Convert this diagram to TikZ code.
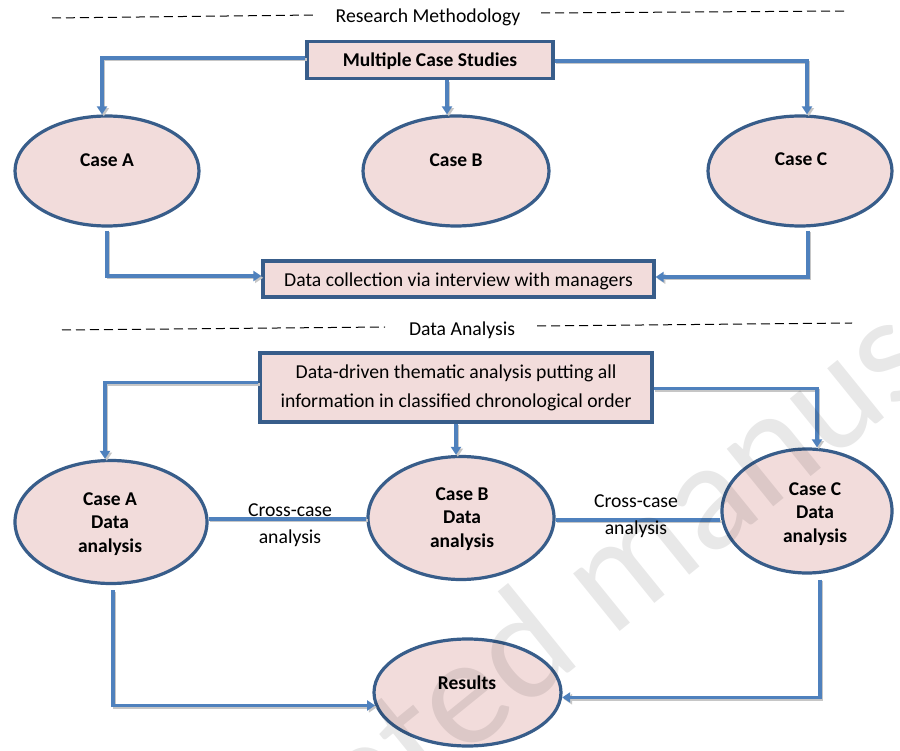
\documentclass[tikz,border=0pt]{standalone}
\usepackage{fontspec}
\setmainfont{Carlito}
\usetikzlibrary{shapes.geometric,arrows.meta,calc}
\definecolor{pinkfill}{HTML}{F2DCDB}
\definecolor{edgeblue}{HTML}{385D8A}
\definecolor{linkblue}{HTML}{4F81BD}
\begin{document}
\begin{tikzpicture}[x=1pt,y=-1pt,
  box/.style={draw=edgeblue,line width=3.2pt,fill=pinkfill,inner sep=0pt,align=center},
  ell/.style={ellipse,draw=edgeblue,line width=3.2pt,fill=pinkfill,inner sep=0pt},
  lbl/.style={font=\fontsize{19.5}{23.8}\selectfont\bfseries,align=center,inner sep=0pt},
  txt/.style={font=\fontsize{19.7}{23.8}\selectfont,align=center,inner sep=0pt},
  conn/.style={draw=linkblue,line width=3.2pt,
    preaction={draw=gray!45,line width=3pt,transform canvas={xshift=1.8pt,yshift=-1.8pt}}},
  arr/.style={conn,-{Triangle[length=8pt,width=10pt]}},
  dline/.style={line width=1pt,dash pattern=on 9pt off 5pt}]
\useasboundingbox (0,0) rectangle (900,751);
\fill[white] (0,0) rectangle (900,751);

% section headings
\coordinate (d1a) at (52,18);  \coordinate (d1b) at (315,15);
\coordinate (d1c) at (541,13); \coordinate (d1d) at (845,11);
\draw[dline] (d1a) -- (d1b);
\draw[dline] (d1c) -- (d1d);
\node[txt] (hRM) at (428,17) {Research Methodology};
\coordinate (d2a) at (62,330);  \coordinate (d2b) at (385,327);
\coordinate (d2c) at (537,326); \coordinate (d2d) at (852,323);
\draw[dline] (d2a) -- (d2b);
\draw[dline] (d2c) -- (d2d);
\node[txt] (hDA) at (462,330) {Data Analysis};

% upper part
\node[box,minimum width=246pt,minimum height=37pt] (mcs) at (430,60) {};
\node[lbl] (mcsT) at (430,61) {Multiple Case Studies};

\node[ell,minimum width=184pt,minimum height=110pt] (ca) at (107,171) {};
\node[lbl] (caT) at (107,160) {Case A};
\node[ell,minimum width=186pt,minimum height=110pt] (cb) at (456,171) {};
\node[lbl] (cbT) at (456,160) {Case B};
\node[ell,minimum width=184pt,minimum height=110pt] (cc) at (800,171) {};
\node[lbl] (ccT) at (801,159) {Case C};

\node[box,minimum width=391pt,minimum height=36pt] (dc) at (458.5,279) {};
\node[txt] (dcT) at (458.5,281) {Data collection via interview with managers};

\draw[arr] ([yshift=2pt]mcs.west) -| ([xshift=-5pt]ca.north);
\draw[arr] ([xshift=17pt]mcs.south) -- ([xshift=17pt]mcs.south |- cb.north);
\draw[arr] ([yshift=-1pt]mcs.east) -| ([xshift=7pt]cc.north);
\draw[arr] ([yshift=-3pt]ca.south) |- ([yshift=3pt]dc.west);
\draw[arr] ([xshift=8pt,yshift=-3pt]cc.south) |- ([yshift=2pt]dc.east);

% lower part
\node[box,minimum width=392pt,minimum height=69pt] (da) at (456,387.5) {};
\node[txt,font=\fontsize{19.7}{29}\selectfont] (daT) at (456,388) {Data-driven thematic analysis putting all\\information in classified chronological order};

\node[ell,minimum width=192pt,minimum height=123pt] (cad) at (111,522) {};
\node[lbl] (cadT) at (110,524) {Case A\\Data\\analysis};
\node[ell,minimum width=186pt,minimum height=123pt] (cbd) at (461,518) {};
\node[lbl] (cbdT) at (462,519) {Case B\\Data\\analysis};
\node[ell,minimum width=170pt,minimum height=124pt] (ccd) at (807,511) {};
\node[lbl] (ccdT) at (815,514) {Case C\\Data\\analysis};

\node[ell,minimum width=187pt,minimum height=107pt] (res) at (467.5,692.5) {};
\node[lbl] (resT) at (467,683) {Results};

\draw[arr] ([yshift=5pt]da.west) -| ([xshift=-6pt]cad.north);
\draw[arr] (da.south) -- (da.south |- cbd.north);
\draw[arr] ([yshift=-1pt]da.east) -| ([xshift=10pt]ccd.north);

\draw[conn] ([yshift=3pt]cad.east) -- ([yshift=3pt]cad.east -| cbd.west);
\node[txt,font=\fontsize{19.7}{27}\selectfont] (x1) at (290,525) {Cross-case\\analysis};
\draw[conn] ([yshift=-2pt]cbd.east) -- ([yshift=-2pt]cbd.east -| ccd.west);
\node[txt,font=\fontsize{19.7}{27}\selectfont] (x2) at (636,516) {Cross-case\\analysis};

\draw[arr] ([xshift=2pt,yshift=-5pt]cad.south) |- (res.188);
\draw[arr] ([xshift=13pt,yshift=-5pt]ccd.south) |- (res.357);

% watermark
\begin{scope}
\clip (0,0) rectangle (900,751);
\node[font=\fontsize{155}{155}\selectfont,text=black,opacity=0.09,rotate=39,anchor=base west,inner sep=0pt] (wm) at (128,1030) {Accepted manuscript};
\end{scope}
\end{tikzpicture}
\end{document}
